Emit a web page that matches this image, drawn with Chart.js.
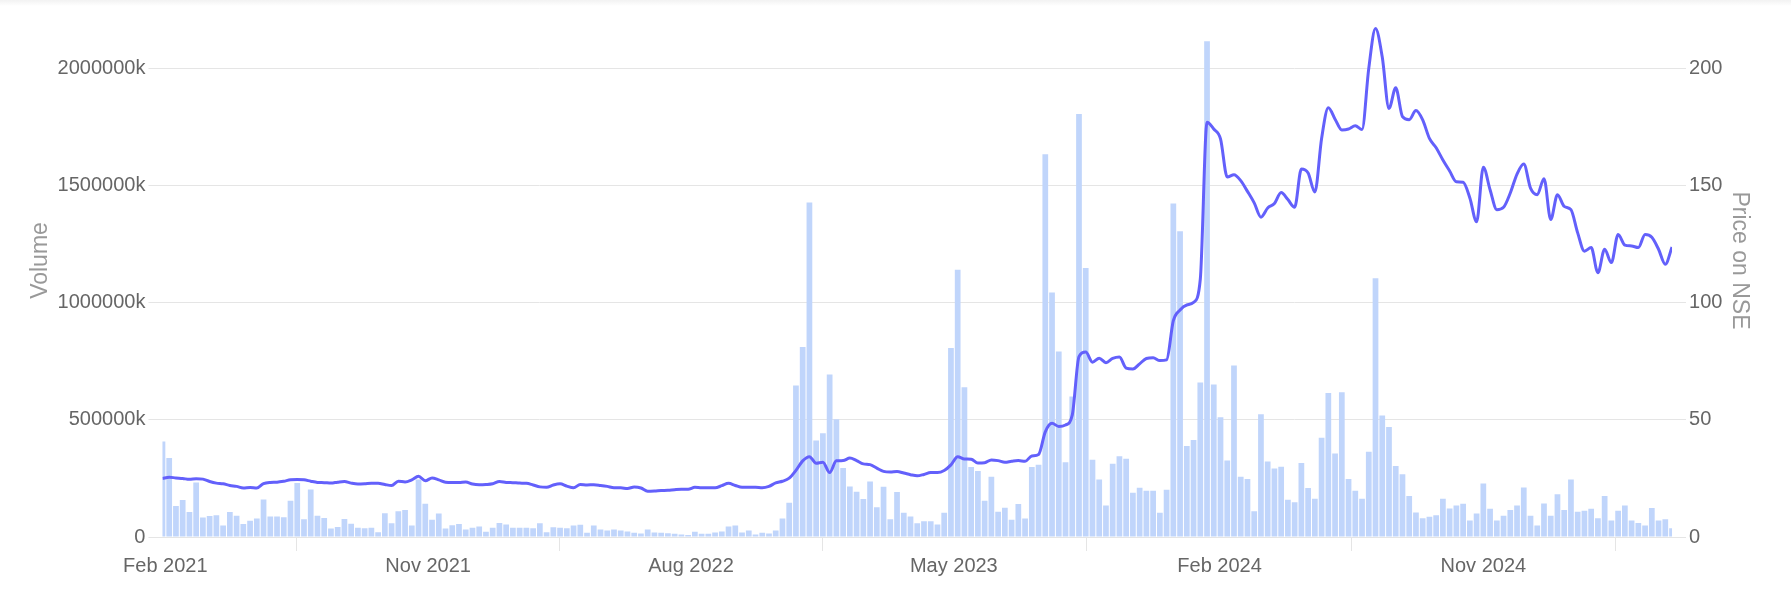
<!DOCTYPE html>
<html>
<head>
<meta charset="utf-8">
<title>Volume and price on NSE</title>
<script src="https://cdn.jsdelivr.net/npm/chart.js@4.4.1/dist/chart.umd.min.js"></script>
<style>
    body { margin: 0; overflow: hidden; background: linear-gradient(#f2f2f2, #ffffff 6px); }
    /* the plot runs a little above the window, as in the original */
    canvas { display: block; margin-top: -16px; }
</style>
</head>
<body>
<canvas id="charts" width="1791" height="620"></canvas>
<script>
// weekly points, the first week is the one of 29 Jan 2021
const startDate = '2021-01-29'
const tickDates = ['2021-02-01', '2021-11-01', '2022-08-01', '2023-05-01', '2024-02-01', '2024-11-01']
const tickLabels = ['Feb 2021', 'Nov 2021', 'Aug 2022', 'May 2023', 'Feb 2024', 'Nov 2024']
const volumeTicks = [0, 500000, 1000000, 1500000, 2000000]
const priceTicks = [0, 50, 100, 150, 200]

// volume in thousands (the axis prints "k")
const volume = [
    408000, 337000, 132000, 158000, 107000, 233000, 83000, 90000, 93000, 49000,
    107000, 91000, 56000, 69000, 79000, 160000, 87000, 87000, 84000, 155000,
    230000, 76000, 203000, 91000, 81000, 36000, 43000, 77000, 57000, 40000,
    37000, 40000, 20000, 101000, 59000, 110000, 115000, 49000, 245000,
    142000, 74000, 100000, 36000, 50000, 56000, 32000, 40000, 45000, 22000,
    40000, 60000, 53000, 39000, 39000, 39000, 37000, 59000, 20000, 42000,
    40000, 37000, 49000, 52000, 18000, 49000, 32000, 28000, 32000, 28000,
    23000, 18000, 15000, 32000, 19000, 18000, 16000, 14000,
    11000, 9000, 22000, 14000, 14000, 19000, 23000, 45000, 49000, 19000,
    28000, 11000, 18000, 15000, 28000, 79000, 146000, 647000, 811000, 1428000,
    412000, 443000, 693000, 503000, 295000, 216000, 193000, 162000, 237000, 127000,
    214000, 76000, 192000, 104000, 87000, 59000, 67000, 67000, 53000,
    103000, 807000, 1140000, 639000, 299000, 282000, 155000, 257000, 108000, 125000,
    74000, 141000, 79000, 299000, 308000, 1633000, 1043000, 792000, 319000, 600000,
    1805000, 1148000, 330000, 245000, 134000, 313000, 345000, 334000, 189000, 210000,
    197000, 197000, 104000, 202000, 1423000, 1305000, 388000, 414000, 659000,
    2116000, 651000, 511000, 327000, 732000, 257000, 248000, 110000, 524000, 322000,
    292000, 300000, 159000, 148000, 316000, 209000, 163000, 424000, 615000, 356000,
    618000, 248000, 197000, 163000, 364000, 1104000, 519000, 469000, 303000, 268000,
    175000, 105000, 80000, 86000, 93000, 163000, 122000, 134000,
    142000, 70000, 100000, 228000, 121000, 70000, 91000, 115000, 134000, 211000,
    91000, 49000, 143000, 91000, 182000, 115000, 245000, 108000, 112000, 121000,
    80000, 175000, 70000, 112000, 134000, 70000, 60000, 49000, 124000, 70000,
    76000, 37000
]

const price = [
    25.0, 25.5, 25.2, 25.0, 24.6, 24.9, 24.7, 23.7, 23.0, 22.7,
    22.0, 21.6, 20.9, 21.1, 20.9, 22.8, 23.3, 23.4, 23.8, 24.4,
    24.5, 24.4, 23.8, 23.3, 23.2, 23.0, 23.4, 23.7, 23.0, 22.6,
    22.7, 22.9, 22.9, 22.4, 22.0, 23.8, 23.5, 24.4, 25.9,
    24.0, 25.2, 24.4, 23.4, 23.3, 23.3, 23.5, 22.6, 22.3, 22.4,
    22.7, 23.7, 23.3, 23.2, 23.0, 22.9, 22.2, 21.4, 21.2, 22.2,
    22.7, 21.7, 21.0, 22.4, 22.2, 22.3, 22.0, 21.6, 21.0, 21.0,
    20.7, 21.3, 20.9, 19.5, 19.6, 19.8, 19.9, 20.2,
    20.4, 20.4, 21.2, 21.0, 21.0, 21.0, 21.9, 22.9, 22.0, 21.2,
    21.2, 21.2, 21.0, 21.6, 23.1, 23.8, 25.1, 28.4, 32.5, 34.3,
    31.5, 31.9, 27.5, 32.5, 32.6, 33.7, 32.6, 31.2, 30.9, 29.4,
    28.0, 27.7, 27.9, 27.3, 26.6, 26.1, 26.7, 27.5, 27.5,
    28.4, 30.8, 34.3, 33.3, 33.2, 31.6, 31.7, 32.9, 32.6, 31.9,
    32.3, 32.6, 32.3, 34.6, 35.2, 44.9, 48.5, 47.2, 47.8, 52.0,
    77.0, 78.9, 74.6, 76.3, 74.4, 76.2, 76.8, 72.1, 71.7, 73.9,
    76.2, 76.5, 75.3, 75.6, 92.3, 96.9, 99.0, 100.1, 110.0,
    177.0, 174.1, 169.9, 153.6, 154.6, 152.1, 147.5, 142.6, 136.5, 140.4,
    142.3, 147.0, 144.0, 140.7, 157.0, 155.3, 147.2, 170.1, 183.2, 178.3,
    173.7, 174.1, 175.5, 173.9, 200.0, 217.0, 204.8, 182.9, 191.7, 179.4,
    178.1, 182.0, 178.0, 170.1, 166.1, 160.9, 156.2, 151.6,
    151.4, 144.7, 134.5, 157.8, 148.2, 139.7, 140.7, 146.8, 154.9, 159.2,
    148.9, 146.1, 152.9, 135.5, 146.1, 141.1, 139.7, 129.8, 122.0, 123.5,
    112.8, 122.8, 117.1, 129.1, 124.6, 124.2, 123.5, 129.1, 127.9, 122.8,
    116.4, 123.7
]

function main()
{
    const weekMs = 7 * 24 * 3600 * 1000
    const tickWeeks = tickDates.map(d => (Date.parse(d) - Date.parse(startDate)) / weekMs)

    Chart.defaults.font.family = '"Liberation Sans", Arial, sans-serif'
    Chart.defaults.font.size = 20
    Chart.defaults.color = '#666'

    const gridColor = '#e5e5e5'

    // no label overhang padding on the value axes, the plot starts at the canvas top
    const noOverhang = axis => { axis.paddingTop = 0; axis.paddingBottom = 0 }

    var ctx = document.getElementById('charts').getContext('2d')

    var chart = new Chart(ctx, {
        type: 'bar',
        data: {
            datasets: [{
                type: 'line',
                label: 'Price on NSE',
                data: price.map((p, i) => ({ x: i, y: p })),
                yAxisID: 'y1',
                borderColor: '#6360fb',
                borderWidth: 3,
                pointRadius: 0,
                cubicInterpolationMode: 'monotone',
                fill: false
            }, {
                label: 'Volume',
                data: volume.map((v, i) => ({ x: i, y: v })),
                yAxisID: 'y',
                backgroundColor: '#c0d5fb',
                borderWidth: 0,
                barPercentage: 0.85,
                categoryPercentage: 1
            }]
        },
        options: {
            responsive: false,
            animation: false,
            layout: {
                padding: { top: 0, left: 23, right: 34, bottom: 23 }
            },
            plugins: {
                legend: { display: false },
                tooltip: { enabled: false }
            },
            scales: {
                x: {
                    type: 'linear',
                    min: 0,
                    max: volume.length - 1,
                    offset: false,
                    afterBuildTicks: axis => { axis.ticks = tickWeeks.map(w => ({ value: w })) },
                    ticks: {
                        autoSkip: false,
                        maxRotation: 0,
                        callback: (v, i) => tickLabels[i]
                    },
                    grid: { drawOnChartArea: false, tickLength: 14, color: gridColor },
                    border: { display: true, color: gridColor }
                },
                y: {
                    position: 'left',
                    min: 0,
                    max: 2360000,
                    afterBuildTicks: axis => { axis.ticks = volumeTicks.map(v => ({ value: v })) },
                    afterFit: noOverhang,
                    ticks: {
                        autoSkip: false,
                        callback: v => v === 0 ? '0' : v + 'k'
                    },
                    grid: { color: gridColor, tickLength: 14 },
                    border: { display: false },
                    title: {
                        display: true, text: 'Volume', color: '#999',
                        font: { size: 23 }, padding: { top: 4, bottom: 0 }
                    }
                },
                y1: {
                    position: 'right',
                    min: 0,
                    max: 236,
                    afterBuildTicks: axis => { axis.ticks = priceTicks.map(v => ({ value: v })) },
                    afterFit: noOverhang,
                    ticks: { autoSkip: false },
                    grid: { drawOnChartArea: false, color: gridColor, tickLength: 14 },
                    border: { display: false },
                    title: {
                        display: true, text: 'Price on NSE', color: '#999',
                        font: { size: 23 }, padding: { top: 4, bottom: 0 }
                    }
                }
            }
        }
    })
}

main()
</script>
</body>
</html>
